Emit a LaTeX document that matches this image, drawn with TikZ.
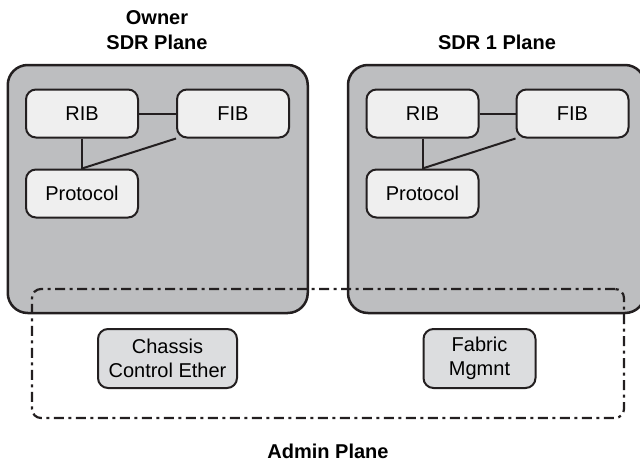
\documentclass[tikz,border=0pt]{standalone}
\usepackage{fontspec}
\setmainfont{Liberation Sans}
\usetikzlibrary{positioning}

\definecolor{planegray}{HTML}{BDBEC0}
\definecolor{blockgray}{HTML}{EFEFEF}
\definecolor{admingray}{HTML}{DCDDDF}
\definecolor{inkgray}{HTML}{231F20}

\begin{document}
\begin{tikzpicture}[x=1pt, y=-1pt,
  plane/.style={draw=inkgray, line width=2.5pt, rounded corners=20pt, fill=planegray, minimum height=248pt, inner sep=0pt},
  block/.style={draw=inkgray, line width=2pt, rounded corners=10pt, fill=blockgray, minimum width=112pt, minimum height=48pt, inner sep=0pt, align=center, font=\fontsize{20}{24}\selectfont},
  admbox/.style={block, fill=admingray, minimum height=59pt},
  admin/.style={draw=inkgray, line width=2.2pt, rounded corners=9pt, dash pattern=on 10pt off 4.5pt on 3pt off 4.5pt, minimum width=592pt, minimum height=129pt, inner sep=0pt},
  title/.style={font=\bfseries\fontsize{20}{25}\selectfont, align=center},
  link/.style={draw=inkgray, line width=2pt}
]
\clip (0,0) rectangle (640,461);
% planes
\node[plane, minimum width=300pt] (owner) at (157.75,189) {};
\node[plane, minimum width=297pt] (sdr) at (496.5,189) {};
\node[admin] (adminpl) at (328,353.5) {};
\node[title] (ownertitle) at (157,30) {Owner\\SDR Plane};
\node[title] (sdrtitle) at (497,42) {SDR 1 Plane};
\node[title] (admintitle) at (328,451) {Admin Plane};
% owner SDR
\node[block] (rib0) at (82,113.5) {RIB};
\node[block, right=37pt of rib0] (fib0) {FIB};
\node[block, below=30pt of rib0] (proto0) {Protocol};
% SDR 1
\node[block] (rib1) at (422.5,113.5) {RIB};
\node[block, right=36pt of rib1] (fib1) {FIB};
\node[block, below=30pt of rib1] (proto1) {Protocol};
% admin plane
\node[admbox, minimum width=139pt] (chassis) at (167.5,358.5) {Chassis\\Control Ether};
\node[admbox] (fabric) at (479.5,358.5) {Fabric\\Mgmnt};
\foreach \n in {0,1} {
  \draw[link] (rib\n) -- (fib\n);
  \draw[link] (rib\n) -- (proto\n);
  \draw[link] (fib\n.south west) -- (proto\n.north);
}
\end{tikzpicture}
\end{document}
